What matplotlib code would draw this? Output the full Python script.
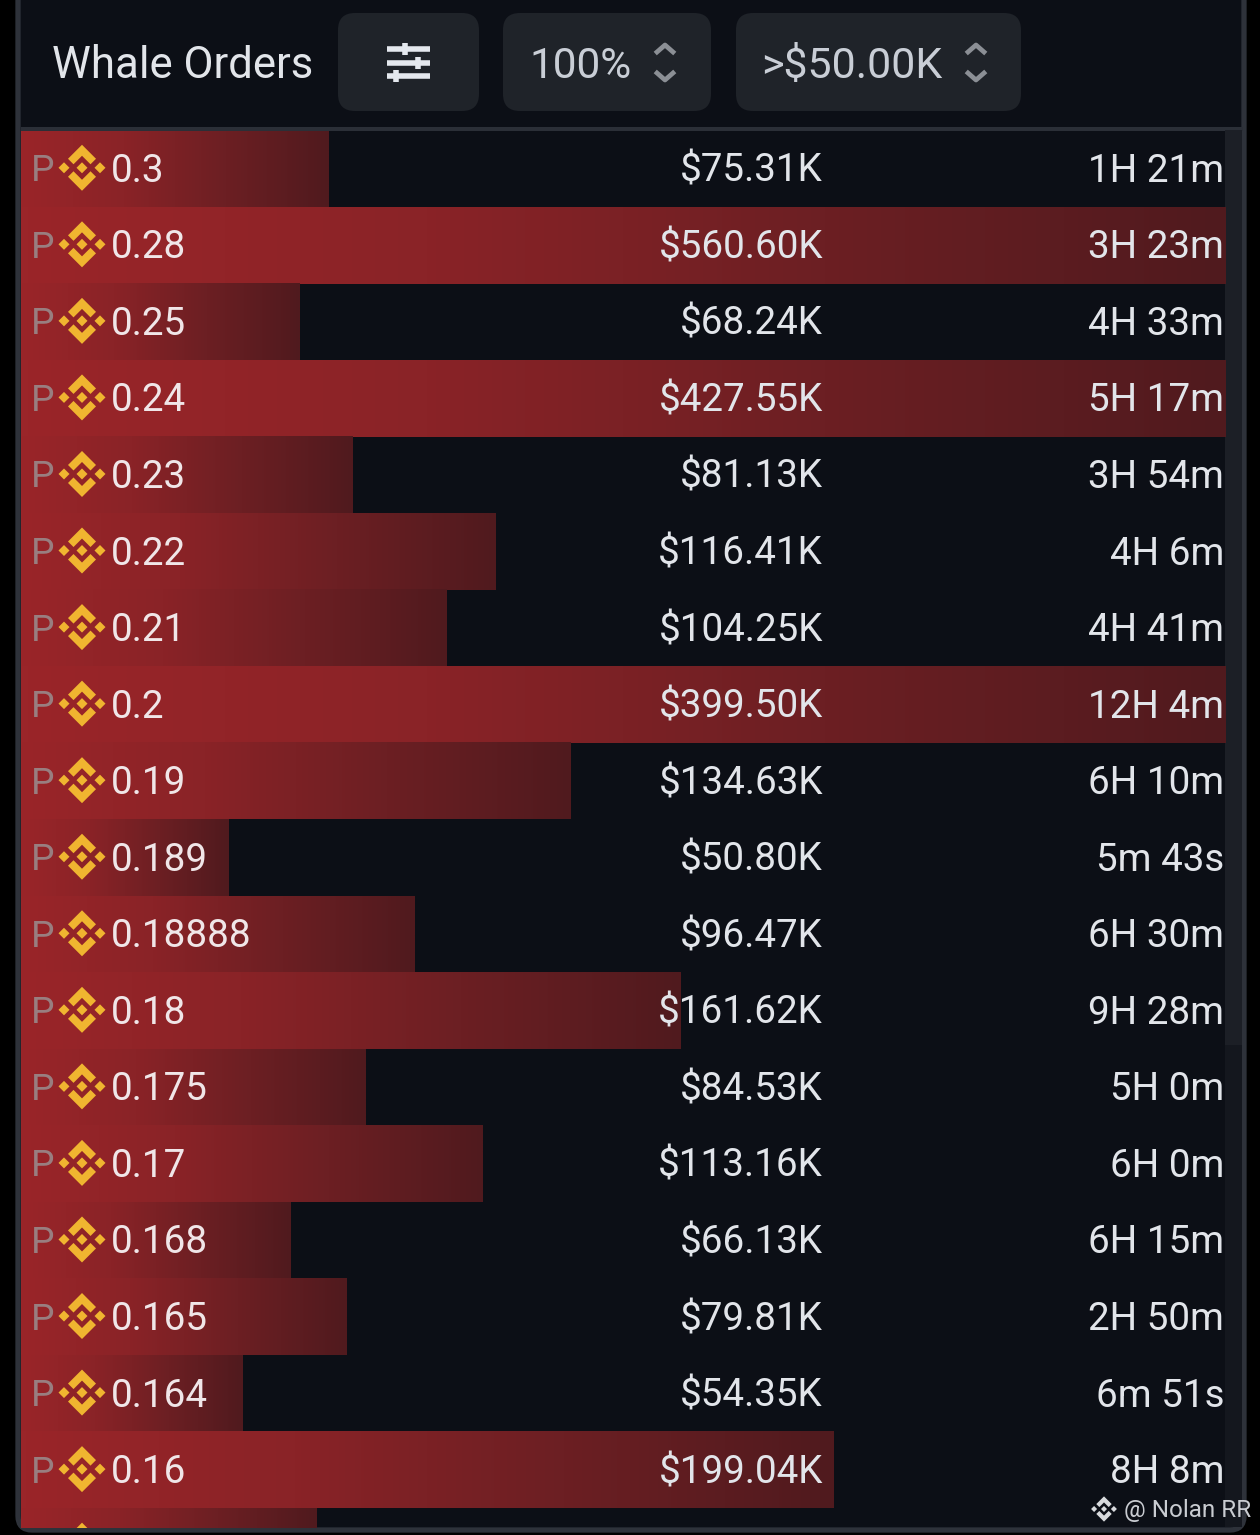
import numpy as np
import matplotlib
matplotlib.use("Agg")
import matplotlib.pyplot as plt
from matplotlib.colors import LinearSegmentedColormap
from matplotlib.patches import Rectangle, FancyBboxPatch, Polygon

plt.rcParams['font.family'] = ['Roboto', 'DejaVu Sans']

prices = ["0.3","0.28","0.25","0.24","0.23","0.22","0.21","0.2","0.19","0.189",
          "0.18888","0.18","0.175","0.17","0.168","0.165","0.164","0.16"]
usd_labels = ["$75.31K","$560.60K","$68.24K","$427.55K","$81.13K","$116.41K","$104.25K",
              "$399.50K","$134.63K","$50.80K","$96.47K","$161.62K","$84.53K","$113.16K",
              "$66.13K","$79.81K","$54.35K","$199.04K"]
usd_values = [75.31,560.60,68.24,427.55,81.13,116.41,104.25,399.50,134.63,50.80,96.47,
              161.62,84.53,113.16,66.13,79.81,54.35,199.04,72.5]
ages = ["1H 21m","3H 23m","4H 33m","5H 17m","3H 54m","4H 6m","4H 41m","12H 4m","6H 10m",
        "5m 43s","6H 30m","9H 28m","5H 0m","6H 0m","6H 15m","2H 50m","6m 51s","8H 8m"]

W, H = 1260, 1535
TOP, PITCH = 130.5, 76.55
BOTTOM = 1528
L, R = 21, 1225
PX_PER_K = 4.08
BG = "#0c0f16"; TXT = "#e2e5ea"
fig = plt.figure(figsize=(W/100, H/100), dpi=100, facecolor="#000000")

def pixel_axes(z):
    a = fig.add_axes([0, 0, 1, 1], zorder=z)
    a.set_xlim(0, W); a.set_ylim(H, 0); a.axis("off")
    return a

base = pixel_axes(0)
base.add_patch(FancyBboxPatch((18, -30), 1226, 1560, boxstyle="round,pad=0,rounding_size=14",
                              fc=BG, ec="#2e323a", lw=3.8))
base.add_patch(Rectangle((L, 127), 1222, 3.5, fc="#2b2f37", ec="none"))
base.add_patch(Rectangle((R, 130), 17, 1397, fc="#14171e", ec="none"))
base.add_patch(Rectangle((R, 130), 17, 915, fc="#1c1f26", ec="none"))

# header controls
for x0, x1 in [(338, 479), (503, 711), (736, 1021)]:
    base.add_patch(FancyBboxPatch((x0, 13), x1-x0, 98, boxstyle="round,pad=0,rounding_size=17",
                                  fc="#1f2329", ec="none"))
base.text(52, 66, "Whale Orders", color=TXT, fontsize=31.5, va="center", ha="left")
base.text(529, 66, "100%", color="#c9ced6", fontsize=30.5, va="center", ha="left")
base.text(761, 66, ">$50.00K", color="#c9ced6", fontsize=31, va="center", ha="left")
for y, kx in [(49, 405), (63, 418), (76, 396)]:
    base.plot([387, 430], [y, y], color="#e4e8ee", lw=4, solid_capstyle="butt")
    base.plot([kx, kx], [y-6, y+6], color="#e4e8ee", lw=4, solid_capstyle="butt")
for cx in (665, 976):
    base.plot([cx-8, cx, cx+8], [52, 45, 52], color="#8b8f95", lw=3.4)
    base.plot([cx-8, cx, cx+8], [73, 80, 73], color="#8b8f95", lw=3.4)

# bars: horizontal axis in $K, vertical axis in rows
bx = fig.add_axes([L/W, 1-BOTTOM/H, (R-L)/W, (BOTTOM-TOP)/H], zorder=1)
bx.patch.set_alpha(0); bx.axis("off")
xmax = (R-L)/PX_PER_K
ymax = (BOTTOM-TOP)/PITCH
cmap = LinearSegmentedColormap.from_list("fade", ["#9a2529", "#8a2327", "#6c1f23", "#501a1e"])
grad = np.linspace(0, 1, 256).reshape(1, -1)
for i, v in enumerate(usd_values):
    bx.imshow(grad, cmap=cmap, aspect="auto", extent=(0, min(v, xmax), i+1, i),
              interpolation="bilinear", zorder=1)
bx.set_xlim(0, xmax); bx.set_ylim(ymax, 0)

# text + logos
top = pixel_axes(2)
clip = Rectangle((L, TOP), R-L, BOTTOM-TOP, transform=top.transData)

def logo(cx, cy, s=1.0, color="#f0b530", clip_to=None):
    shapes = [
        [(0,-23),(14,-9),(8.5,-3.5),(0,-12),(-8.5,-3.5),(-14,-9)],
        [(0,23),(14,9),(8.5,3.5),(0,12),(-8.5,3.5),(-14,9)],
        [(0,-5.5),(5.5,0),(0,5.5),(-5.5,0)],
        [(-18,-5.5),(-12.5,0),(-18,5.5),(-23.5,0)],
        [(18,-5.5),(12.5,0),(18,5.5),(23.5,0)],
    ]
    for sh in shapes:
        p = Polygon([(cx+s*a, cy+s*b) for a, b in sh], closed=True, fc=color, ec="none")
        top.add_patch(p)
        if clip_to is not None:
            p.set_clip_path(clip_to)

FS = 27.8
for i in range(len(usd_values)):
    cy = TOP + PITCH*(i+0.5)
    logo(82, cy-1, clip_to=clip)
    if i >= len(prices):
        continue
    ty = cy + 2.5
    top.text(31, ty, "P", color="#9a8f90", fontsize=FS-1, va="center", ha="left", alpha=0.85)
    top.text(111, ty, prices[i], color="#f0e6e8", fontsize=FS, va="center", ha="left")
    top.text(823, ty, usd_labels[i], color=TXT, fontsize=FS, va="center", ha="right")
    top.text(1224, ty, ages[i], color=TXT, fontsize=FS, va="center", ha="right")

# watermark
logo(1104, 1509, s=0.55, color="#d8dadd")
top.text(1124, 1510, "@ Nolan RR", color="#c9ccd1", fontsize=17.5, va="center", ha="left")

fig.savefig("out.png", dpi=100, facecolor=fig.get_facecolor())
